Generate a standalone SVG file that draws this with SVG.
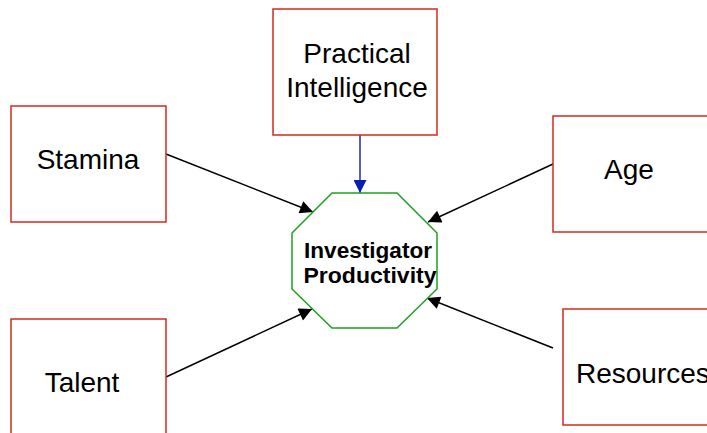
<svg xmlns="http://www.w3.org/2000/svg" width="707" height="433" viewBox="0 0 707 433">
  <defs>
    <style>
      .box { fill: #ffffff; stroke: #d42a1e; stroke-width: 1.5; }
      .hub { fill: #ffffff; stroke: #1ea01e; stroke-width: 1.5; }
      .lbl { font-family: "Liberation Sans", Arial, sans-serif; font-size: 28px; fill: #000000; }
      .hubtxt { font-family: "Liberation Sans", Arial, sans-serif; font-size: 22px; font-weight: bold; fill: #000000; }
      .link { stroke: #000000; stroke-width: 1.5; fill: none; marker-end: url(#arrowK); }
      .link-blue { stroke: #1a2fb0; stroke-width: 1.5; fill: none; marker-end: url(#arrowB); }
    </style>
    <marker id="arrowK" viewBox="0 0 10 10" refX="10" refY="5" markerWidth="14" markerHeight="13" markerUnits="userSpaceOnUse" orient="auto">
      <path d="M0,0 L10,5 L0,10 Z" fill="#000000"/>
    </marker>
    <marker id="arrowB" viewBox="0 0 10 10" refX="10" refY="5" markerWidth="13" markerHeight="13" markerUnits="userSpaceOnUse" orient="auto">
      <path d="M0,0 L10,5 L0,10 Z" fill="#0a1fb0"/>
    </marker>
  </defs>

  <rect width="707" height="433" fill="#ffffff"/>

  <!-- connectors -->
  <g id="connectors">
    <line class="link-blue" x1="360" y1="135" x2="360" y2="193"/>
    <line class="link" x1="166" y1="154" x2="313" y2="212"/>
    <line class="link" x1="553" y1="164" x2="428" y2="222"/>
    <line class="link" x1="166" y1="377" x2="312" y2="309"/>
    <line class="link" x1="553" y1="348" x2="427" y2="298"/>
  </g>

  <!-- central outcome -->
  <g id="investigator-productivity">
    <polygon class="hub" points="332,193 397,193 437,233 437,289 397,328 332,328 292,289 292,233"/>
    <text class="hubtxt" x="368" y="258" text-anchor="middle" textLength="128" lengthAdjust="spacingAndGlyphs">Investigator</text>
    <text class="hubtxt" x="370" y="283" text-anchor="middle" textLength="133" lengthAdjust="spacingAndGlyphs">Productivity</text>
  </g>

  <g id="practical-intelligence">
    <rect class="box" x="273" y="9" width="164" height="126"/>
    <text class="lbl" x="357" y="63" text-anchor="middle">Practical</text>
    <text class="lbl" x="357" y="97" text-anchor="middle">Intelligence</text>
  </g>

  <g id="stamina">
    <rect class="box" x="11" y="106" width="155" height="116"/>
    <text class="lbl" x="88" y="169" text-anchor="middle">Stamina</text>
  </g>

  <g id="age">
    <rect class="box" x="553" y="116" width="170" height="116"/>
    <text class="lbl" x="629" y="179" text-anchor="middle">Age</text>
  </g>

  <g id="talent">
    <rect class="box" x="11" y="319" width="155" height="130"/>
    <text class="lbl" x="82" y="392" text-anchor="middle">Talent</text>
  </g>

  <g id="resources">
    <rect class="box" x="563" y="309" width="160" height="116"/>
    <text class="lbl" x="576" y="383">Resources</text>
  </g>
</svg>
